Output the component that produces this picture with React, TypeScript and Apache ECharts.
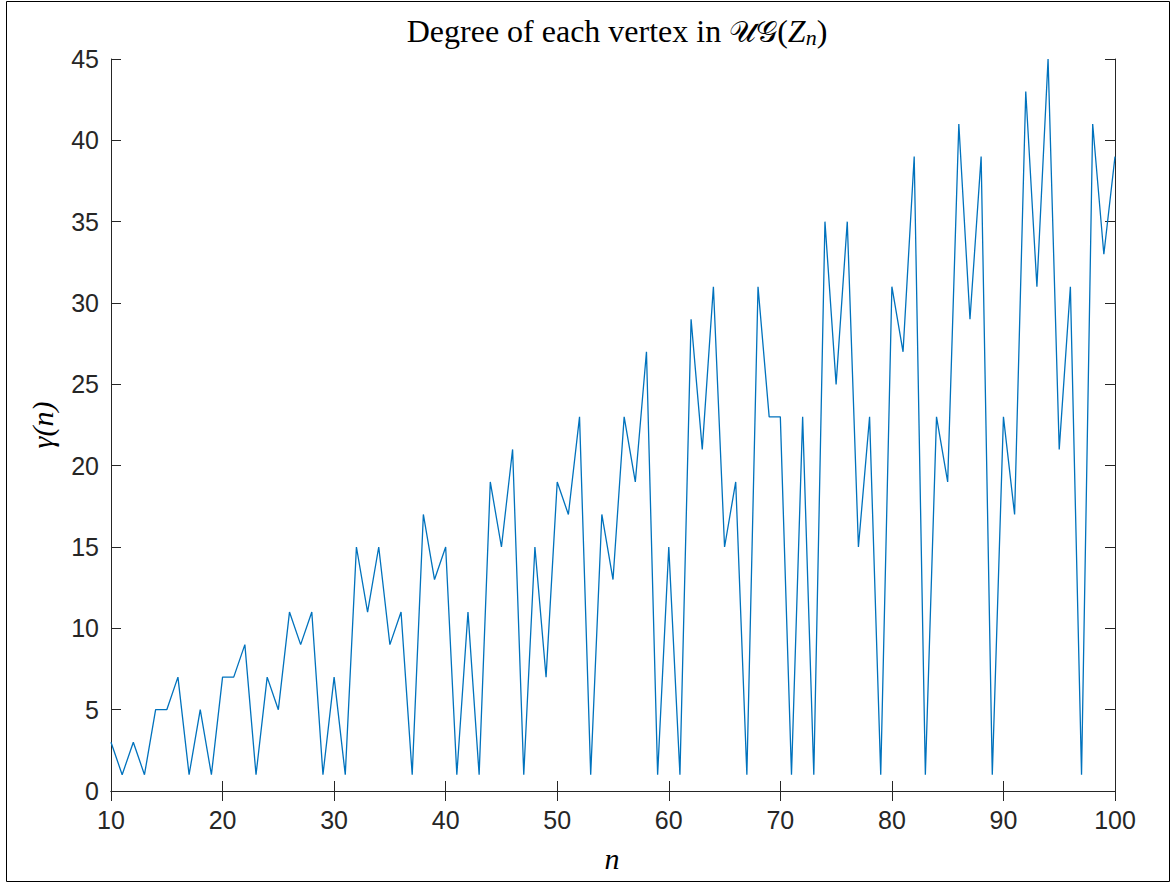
import React, { useEffect, useRef } from "react";
import * as echarts from "echarts";

const nStart = 10;
const degrees: number[] = [
  3, 1, 3, 1, 5, 5, 7, 1, 5, 1,
  7, 7, 9, 1, 7, 5, 11, 9, 11, 1,
  7, 1, 15, 11, 15, 9, 11, 1, 17, 13,
  15, 1, 11, 1, 19, 15, 21, 1, 15, 7,
  19, 17, 23, 1, 17, 13, 23, 19, 27, 1,
  15, 1, 29, 21, 31, 15, 19, 1, 31, 23,
  23, 1, 23, 1, 35, 25, 35, 15, 23, 1,
  31, 27, 39, 1, 23, 19, 41, 29, 39, 1,
  23, 17, 43, 31, 45, 21, 31, 1, 41, 33,
  39,
];
const xTicks = { min: 10, max: 100, interval: 10 };
const yTicks = { min: 0, max: 45, interval: 5 };

const axisColor = "#262626";
const tickFont = "Liberation Sans";

export default function App() {
  const ref = useRef<HTMLDivElement>(null);
  useEffect(() => {
    if (!ref.current) return;
    const chart = echarts.init(ref.current, null, { renderer: "svg" });
    const data = degrees.map((v, i) => [nStart + i, v]);
    const common = {
      axisLine: { show: true, lineStyle: { color: axisColor, width: 1 } },
      axisTick: { show: true, inside: true, length: 10, lineStyle: { color: axisColor, width: 1 } },
      splitLine: { show: false },
    };
    chart.setOption({
      animation: false,
      backgroundColor: "#ffffff",
      grid: { left: 111, top: 59, right: 56, bottom: 92, containLabel: false },
      xAxis: [
        {
          type: "value",
          position: "bottom",
          ...xTicks,
          ...common,
          axisLabel: { show: true, color: axisColor, fontFamily: tickFont, fontSize: 25, margin: 16 },
        },
        {
          type: "value",
          position: "top",
          ...xTicks,
          ...common,
          axisLabel: { show: false },
        },
      ],
      yAxis: [
        {
          type: "value",
          position: "left",
          ...yTicks,
          ...common,
          axisLabel: { show: true, color: axisColor, fontFamily: tickFont, fontSize: 25, margin: 12 },
        },
        {
          type: "value",
          position: "right",
          ...yTicks,
          ...common,
          axisLabel: { show: false },
        },
      ],
      series: [
        {
          type: "line",
          data,
          xAxisIndex: 0,
          yAxisIndex: 0,
          showSymbol: false,
          symbol: "none",
          lineStyle: { color: "#0072BD", width: 1.3 },
        },
      ],
      graphic: [
        {
          type: "rect",
          shape: { x: 6.5, y: 1.5, width: 1163, height: 880 },
          style: { fill: "none", stroke: "#000000", lineWidth: 1 },
          silent: true,
        },
        {
          type: "text",
          x: 617,
          y: 48,
          style: {
            text: "Degree of each vertex in {cal|𝒰𝒢}({it|Z}{sub|n})",
            fontFamily: "Liberation Serif",
            fontSize: 32,
            fill: "#000000",
            align: "center",
            verticalAlign: "bottom",
            rich: {
              cal: { fontFamily: "DejaVu Serif", fontSize: 30, fill: "#000000" },
              it: { fontFamily: "Liberation Serif", fontStyle: "italic", fontSize: 32, fill: "#000000" },
              sub: { fontFamily: "Liberation Serif", fontStyle: "italic", fontSize: 22, fill: "#000000", padding: [12, 0, 0, 0] },
            },
          },
        },
        {
          type: "text",
          x: 612,
          y: 858,
          style: {
            text: "n",
            fontFamily: "Liberation Serif",
            fontStyle: "italic",
            fontSize: 30,
            fill: "#000000",
            align: "center",
            verticalAlign: "middle",
          },
        },
        {
          type: "text",
          x: 42,
          y: 425,
          rotation: Math.PI / 2,
          style: {
            text: "γ(n)",
            fontFamily: "Liberation Serif",
            fontStyle: "italic",
            fontSize: 30,
            fill: "#000000",
            align: "center",
            verticalAlign: "middle",
          },
        },
      ],
    });
    return () => chart.dispose();
  }, []);
  return (
    <div
      ref={ref}
      style={{ position: "fixed", left: 0, top: 0, width: 1171, height: 883, background: "#fff" }}
    />
  );
}
